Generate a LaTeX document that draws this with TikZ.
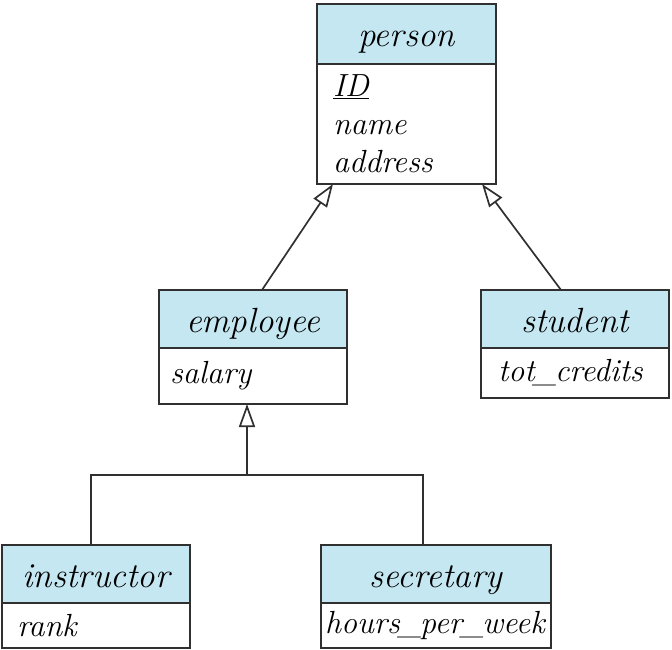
\documentclass[tikz,border=0pt]{standalone}
\usepackage{tikz}
\usetikzlibrary{positioning,arrows.meta}
\definecolor{hdrB}{HTML}{C4E7F2}
\definecolor{lineG}{HTML}{303030}
\newcommand{\hdrfont}{\fontsize{35}{40}\selectfont\itshape}
\newcommand{\attrfont}{\fontsize{32}{38}\selectfont\itshape}
\newcommand{\us}{\kern-1.5pt\_\kern-1.5pt}

\begin{document}
\begin{tikzpicture}[x=1pt, y=-1pt,
  hdr/.style={rectangle, draw=lineG, line width=1.9pt, fill=hdrB, font=\hdrfont,
              minimum height=58pt, outer sep=0pt, inner sep=2pt,
              text height=28pt, text depth=2pt},
  attr/.style={rectangle, draw=lineG, line width=1.9pt, fill=white, font=\attrfont,
               align=left, anchor=north, outer sep=0pt, inner ysep=2pt},
  isa/.style={-{Triangle[open, length=23pt, width=16pt]}, line width=1.7pt, lineG},
  link/.style={line width=1.7pt, lineG}
]
  \useasboundingbox (0,0) rectangle (672,650);
  \node[hdr, minimum width=179pt, minimum height=60pt] (person) at (406.5,34) {person};
  \node[attr, text width=147pt, inner xsep=16pt, minimum height=120pt, below=0pt of person] (personA) {\underline{ID}\\ name\\ address};
  \node[hdr, minimum width=188pt] (employee) at (253,319) {employee};
  \node[attr, text width=166pt, inner xsep=11pt, minimum height=56pt, below=0pt of employee] (employeeA) {salary};
  \node[hdr, minimum width=188pt] (student) at (575,319) {student};
  \node[attr, text width=154pt, inner xsep=17pt, minimum height=50pt, below=0pt of student] (studentA) {tot\us credits};
  \node[hdr, minimum width=188pt] (instructor) at (96,574) {instructor};
  \node[attr, text width=158pt, inner xsep=15pt, minimum height=45pt, below=0pt of instructor] (instructorA) {rank};
  \node[hdr, minimum width=230pt] (secretary) at (436,574) {secretary};
  \node[attr, text width=222pt, inner xsep=4pt, minimum height=45pt, below=0pt of secretary] (secretaryA) {hours\us per\us week};
  \coordinate (join) at (247,475);
  \draw[isa] ([xshift=9pt]employee.north) -- ([xshift=16pt]personA.south west);
  \draw[isa] ([xshift=-14pt]student.north) -- ([xshift=-14pt]personA.south east);
  \draw[isa] (join) -- (join |- employeeA.south);
  \draw[link] ([xshift=-5pt]instructor.north) |- (join) -| ([xshift=-13pt]secretary.north);
\end{tikzpicture}
\end{document}
